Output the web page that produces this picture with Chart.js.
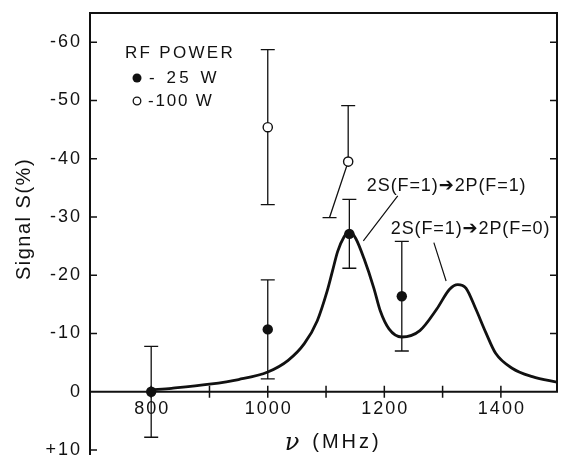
<!DOCTYPE html>
<html>
<head>
<meta charset="utf-8">
<script src="https://cdn.jsdelivr.net/npm/chart.js@4"></script>
<style>
  html, body { margin: 0; padding: 0; background: #fff; }
  canvas { display: block; }
</style>
</head>
<body>
<canvas id="signalChart" width="564" height="461"></canvas>
<script>
// frequency nu (MHz) vs signal S (%), negative signal plotted upward
const curveFreq = [800, 835, 900, 950, 1000, 1035, 1063, 1085, 1102, 1111, 1120, 1131, 1140, 1151, 1165, 1182, 1193, 1208, 1230, 1261, 1290, 1312, 1326, 1340, 1357, 1374, 1391, 1420, 1454, 1498];
const curveSignal = [-0.3, -0.6, -1.3, -2.1, -3.4, -5.4, -8.3, -12.2, -17.3, -20.7, -24.1, -26.6, -27.6, -26.3, -22.9, -17.8, -13.9, -10.8, -9.4, -10.5, -14.2, -17.6, -18.4, -17.8, -14.2, -10.2, -6.6, -4.0, -2.6, -1.6];

const freq25 = [800, 1000, 1140, 1230];
const signal25 = [0, -10.7, -27.1, -16.4];
const err25 = [7.8, 8.5, 5.9, 9.4];

const freq100 = [1000, 1138];
const signal100 = [-45.4, -39.5];
const err100 = [13.3, 9.6];
const lowCapFreq100 = [1000, 1106]; // lower bar of the 2nd point is drawn slanted

const yTicks = [-60, -50, -40, -30, -20, -10, 0, 10];
const yTickLabels = ["-60", "-50", "-40", "-30", "-20", "-10", "0", "+10"];
const xTicks = [800, 1000, 1200, 1400];
const xTickLabels = ["800", "1000", "1200", "1400"];
const xMinorTicks = [900, 1100, 1300];

const notes = ["2S(F=1)\u27942P(F=1)", "2S(F=1)\u27942P(F=0)"];
const noteAt = [[1170, -35.3], [1211, -28.0]];
const leaders = [[1223, -33.6, 1164, -25.9], [1285, -25.6, 1306, -19.0]];

function spacedText(ctx, txt, x, y, font, spacing, align) {
  ctx.save();
  ctx.font = font;
  ctx.letterSpacing = spacing + "px";
  ctx.textAlign = align || "left";
  ctx.textBaseline = "middle";
  ctx.fillStyle = "#111";
  ctx.fillText(txt, x, y);
  ctx.restore();
}

const errorBars = {
  id: "errorBars",
  beforeDatasetsDraw(chart) {
    const { ctx, scales: { x, y } } = chart;
    ctx.save();
    ctx.strokeStyle = "#111";
    ctx.lineWidth = 1.3;
    const cap = 7;
    function bar(fx, fy, e, lowFx) {
      const px = x.getPixelForValue(fx);
      const top = y.getPixelForValue(fy - e);
      const mid = y.getPixelForValue(fy);
      const bot = y.getPixelForValue(fy + e);
      const lx = x.getPixelForValue(lowFx);
      ctx.beginPath();
      ctx.moveTo(px - cap, top); ctx.lineTo(px + cap, top);
      ctx.moveTo(px, top); ctx.lineTo(px, mid);
      ctx.lineTo(lx, bot);
      ctx.moveTo(lx - cap, bot); ctx.lineTo(lx + cap, bot);
      ctx.stroke();
    }
    freq25.forEach((f, i) => bar(f, signal25[i], err25[i], f));
    freq100.forEach((f, i) => bar(f, signal100[i], err100[i], lowCapFreq100[i]));
    ctx.restore();
  }
};

const frame = {
  id: "frame",
  afterDraw(chart) {
    const { ctx, chartArea: a, scales: { x, y } } = chart;
    const y0 = y.getPixelForValue(0);
    ctx.save();
    ctx.strokeStyle = "#111";
    ctx.lineWidth = 2;
    ctx.beginPath();
    ctx.moveTo(a.left, a.bottom); ctx.lineTo(a.left, a.top);
    ctx.lineTo(a.right - 1, a.top); ctx.lineTo(a.right - 1, y0);
    ctx.moveTo(a.left, y0); ctx.lineTo(a.right, y0);
    ctx.stroke();

    ctx.lineWidth = 1.5;
    ctx.beginPath();
    yTicks.forEach(v => {
      if (v === 0) return;
      const py = y.getPixelForValue(v);
      ctx.moveTo(a.left, py); ctx.lineTo(a.left + 7, py);
      if (v < 0) { ctx.moveTo(a.right - 1, py); ctx.lineTo(a.right - 8, py); }
    });
    xTicks.concat(xMinorTicks).forEach(v => {
      const px = x.getPixelForValue(v);
      ctx.moveTo(px, y0 - 6); ctx.lineTo(px, y0 + 6);
    });
    ctx.stroke();

    const tickFont = "18px 'Liberation Sans'";
    yTicks.forEach((v, i) => {
      spacedText(ctx, yTickLabels[i], a.left - 8, y.getPixelForValue(v), tickFont, 2, "right");
    });
    xTicks.forEach((v, i) => {
      spacedText(ctx, xTickLabels[i], x.getPixelForValue(v) + 1, y0 + 17, tickFont, 2, "center");
    });

    // axis titles
    spacedText(ctx, "\u03BD", 292, 444, "italic 24px 'DejaVu Serif'", 0, "center");
    spacedText(ctx, "(MHz)", 347, 442, "20px 'Liberation Sans'", 3, "center");
    ctx.save();
    ctx.translate(24, 219);
    ctx.rotate(-Math.PI / 2);
    spacedText(ctx, "Signal S(%)", 0, 0, "20px 'Liberation Sans'", 1.5, "center");
    ctx.restore();

    // legend
    spacedText(ctx, "RF POWER", 125, 53, "17px 'Liberation Sans'", 2.3);
    ctx.fillStyle = "#111";
    ctx.beginPath(); ctx.arc(137, 78, 4.5, 0, Math.PI * 2); ctx.fill();
    ctx.lineWidth = 1.3;
    ctx.beginPath(); ctx.arc(137, 101, 3.8, 0, Math.PI * 2); ctx.stroke();
    spacedText(ctx, "- 25 W", 149, 78, "17px 'Liberation Sans'", 3.5);
    spacedText(ctx, "-100 W", 148, 101, "17px 'Liberation Sans'", 1.8);

    // transition labels and leader lines
    ctx.lineWidth = 1.2;
    ctx.beginPath();
    leaders.forEach(l => {
      ctx.moveTo(x.getPixelForValue(l[0]), y.getPixelForValue(l[1]));
      ctx.lineTo(x.getPixelForValue(l[2]), y.getPixelForValue(l[3]));
    });
    ctx.stroke();
    notes.forEach((t, i) => {
      spacedText(ctx, t, x.getPixelForValue(noteAt[i][0]), y.getPixelForValue(noteAt[i][1]),
        "18px 'Liberation Sans', 'DejaVu Sans'", 0.9);
    });
    ctx.restore();
  }
};

new Chart(document.getElementById("signalChart"), {
  type: "scatter",
  data: {
    datasets: [
      {
        type: "line",
        data: curveFreq.map((f, i) => ({ x: f, y: curveSignal[i] })),
        borderColor: "#111",
        borderWidth: 2.8,
        pointRadius: 0,
        cubicInterpolationMode: "monotone",
        fill: false
      },
      {
        data: freq25.map((f, i) => ({ x: f, y: signal25[i] })),
        pointRadius: 5.2,
        backgroundColor: "#111",
        borderColor: "#111",
        borderWidth: 0
      },
      {
        data: freq100.map((f, i) => ({ x: f, y: signal100[i] })),
        pointRadius: 4.6,
        backgroundColor: "#fff",
        borderColor: "#111",
        borderWidth: 1.4
      }
    ]
  },
  options: {
    responsive: false,
    animation: false,
    layout: { padding: { left: 90, top: 13, right: 0, bottom: 0 } },
    plugins: { legend: { display: false }, tooltip: { enabled: false } },
    scales: {
      x: { type: "linear", min: 695, max: 1498, display: false },
      y: { type: "linear", min: -65, max: 10.85, reverse: true, display: false }
    }
  },
  plugins: [errorBars, frame]
});
</script>
</body>
</html>
